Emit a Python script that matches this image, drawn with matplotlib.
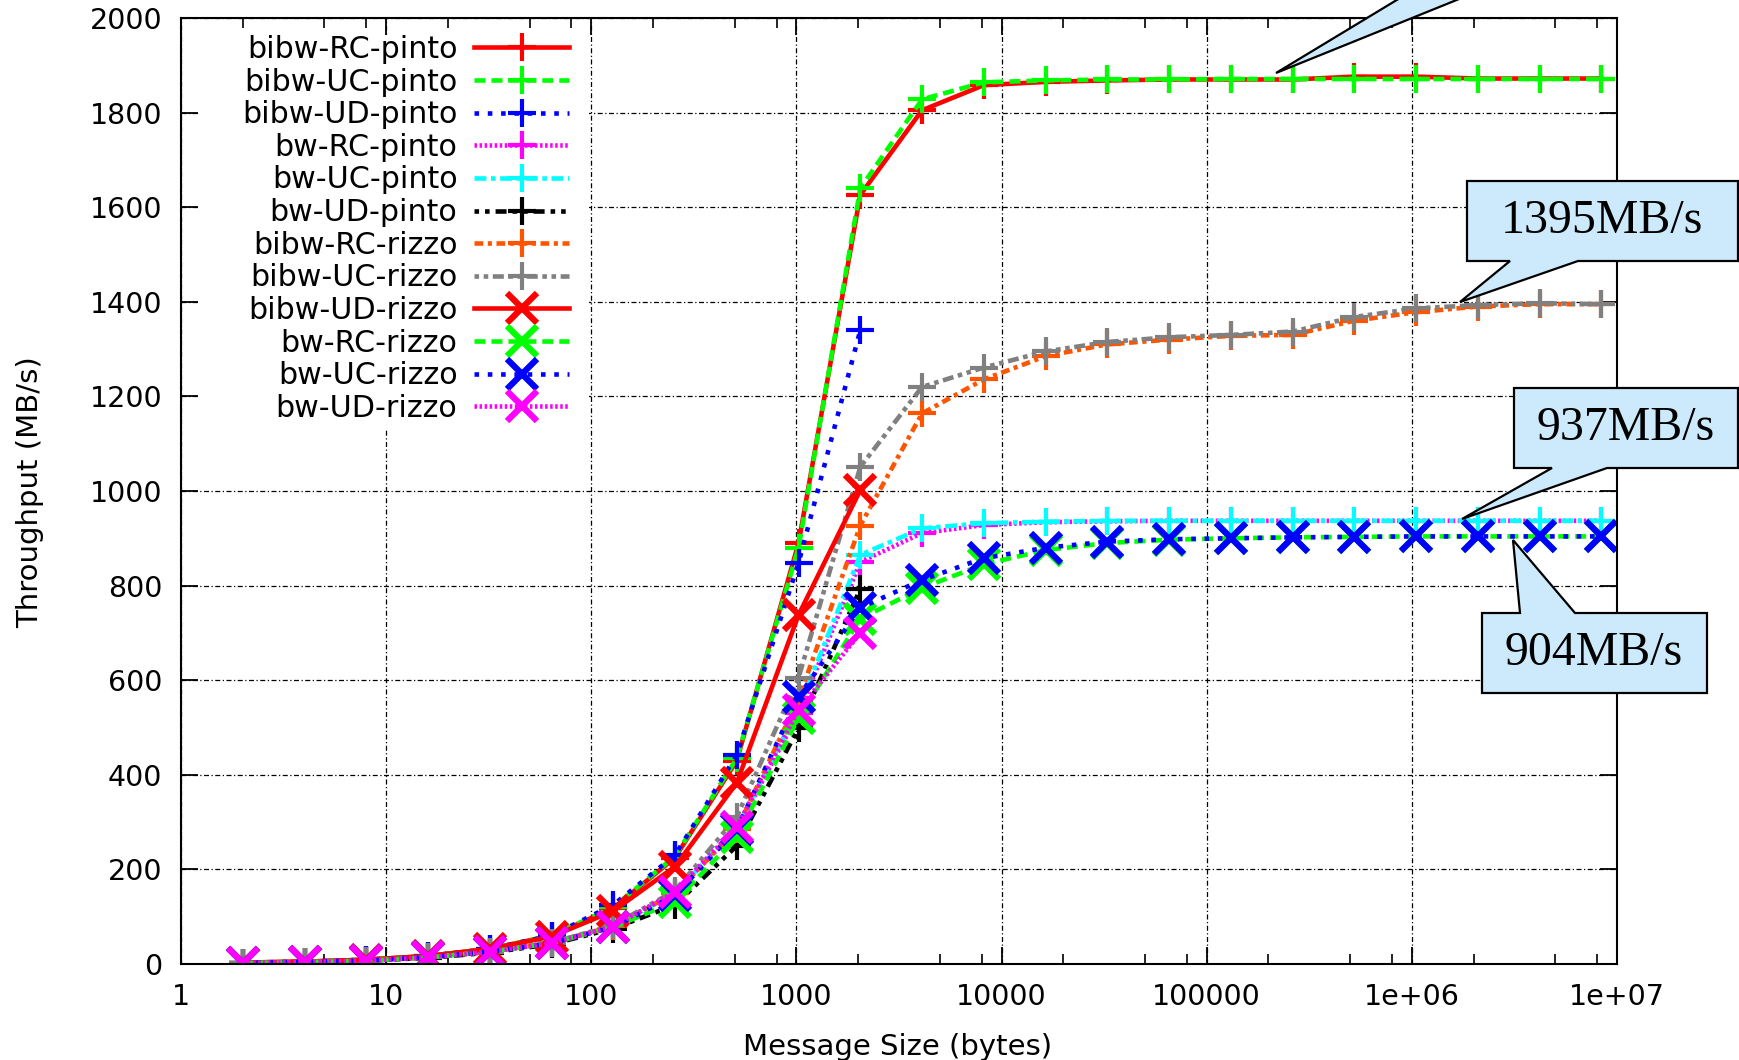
import matplotlib
matplotlib.use('Agg')
import matplotlib.pyplot as plt
from matplotlib.patches import Polygon, Rectangle
from matplotlib.ticker import FixedLocator, FixedFormatter, NullFormatter

plt.rcParams['font.family'] = ['DejaVu Sans']

# ---------------- data ----------------
sizes = [2 ** k for k in range(1, 24)]          # 2 B .. 8 MB
ud_sizes = sizes[:11]                            # UD only up to 2048 B

bibw_rc_pinto = [3, 5, 9, 17, 32, 60, 118, 225, 430, 890, 1626, 1805, 1858, 1865, 1868,
                 1870, 1870, 1870, 1876, 1876, 1872, 1872, 1872]
bibw_uc_pinto = [3, 5, 9, 17, 32, 60, 120, 228, 435, 880, 1640, 1828, 1864, 1868, 1870,
                 1870, 1871, 1871, 1871, 1871, 1871, 1871, 1871]
bibw_ud_pinto = [3, 5, 9, 17, 32, 60, 125, 230, 442, 848, 1340]
bw_rc_pinto = [2, 4, 7, 14, 26, 45, 80, 150, 285, 530, 850, 911, 928, 934, 936,
               937, 937, 937, 937, 937, 937, 937, 937]
bw_uc_pinto = [2, 4, 7, 14, 26, 45, 80, 150, 288, 540, 865, 921, 932, 935, 937,
               937, 937, 937, 937, 937, 937, 937, 937]
bw_ud_pinto = [2, 4, 7, 13, 24, 42, 75, 125, 250, 499, 793]
bibw_rc_rizzo = [2, 4, 7, 14, 26, 45, 80, 150, 285, 560, 927, 1164, 1236, 1285, 1310,
                 1320, 1328, 1330, 1360, 1378, 1390, 1395, 1395]
bibw_uc_rizzo = [2, 4, 7, 14, 26, 45, 82, 155, 311, 605, 1051, 1220, 1261, 1295, 1315,
                 1325, 1330, 1337, 1368, 1386, 1393, 1397, 1395]
bibw_ud_rizzo = [3, 5, 9, 17, 32, 58, 112, 206, 383, 738, 1002]
bw_rc_rizzo = [2, 4, 7, 14, 26, 44, 78, 132, 269, 520, 730, 795, 845, 875, 890,
               897, 900, 902, 903, 904, 904, 904, 904]
bw_uc_rizzo = [2, 4, 7, 14, 26, 44, 78, 145, 285, 565, 753, 812, 858, 880, 893,
               898, 900, 902, 903, 904, 904, 904, 904]
bw_ud_rizzo = [2, 4, 7, 14, 26, 44, 79, 153, 290, 537, 700]

series_labels = ['bibw-RC-pinto', 'bibw-UC-pinto', 'bibw-UD-pinto', 'bw-RC-pinto',
                 'bw-UC-pinto', 'bw-UD-pinto', 'bibw-RC-rizzo', 'bibw-UC-rizzo',
                 'bibw-UD-rizzo', 'bw-RC-rizzo', 'bw-UC-rizzo', 'bw-UD-rizzo']
series_values = [bibw_rc_pinto, bibw_uc_pinto, bibw_ud_pinto, bw_rc_pinto,
                 bw_uc_pinto, bw_ud_pinto, bibw_rc_rizzo, bibw_uc_rizzo,
                 bibw_ud_rizzo, bw_rc_rizzo, bw_uc_rizzo, bw_ud_rizzo]

x_ticks = [1, 10, 100, 1000, 10000, 100000, 1e6, 1e7]
x_tick_labels = ['1', '10', '100', '1000', '10000', '100000', '1e+06', '1e+07']
y_ticks = list(range(0, 2001, 200))

callout_labels = ['1395MB/s', '937MB/s', '904MB/s']

# ---------------- styles ----------------
colors = ['#ff0000', '#00ff00', '#0000ff', '#ff00ff', '#00ffff', '#000000',
          '#ff5500', '#808080', '#ff0000', '#00ff00', '#0000ff', '#ff00ff']
dash_solid = '-'
dash_dashed = (0, (2.4, 1.3))
dash_dotted = (0, (1.0, 1.9))
dash_fine = (0, (0.55, 0.55))
dash_dashdot = (0, (2.6, 1.0, 1.0, 1.0))
dash_ddot = (0, (1.0, 1.3, 1.0, 1.3, 2.4, 1.3))
dash_orange = (0, (1.9, 1.0, 0.9, 1.0))
dash_gray = (0, (1.0, 1.0, 1.0, 1.0, 2.4, 1.0))
styles = [dash_solid, dash_dashed, dash_dotted, dash_fine, dash_dashdot, dash_ddot,
          dash_orange, dash_gray, dash_solid, dash_dashed, dash_dotted, dash_fine]
markers = ['+'] * 8 + ['x'] * 4

W, H = 1739, 1060
fig = plt.figure(figsize=(W / 100, H / 100), dpi=100)
L, R, T, B = 181, 1617, 18, 964
ax = fig.add_axes([L / W, 1 - B / H, (R - L) / W, (B - T) / H])

for lab, vals, col, ls, mk in zip(series_labels, series_values, colors, styles, markers):
    xs = sizes[:len(vals)]
    if mk == '+':
        ax.plot(xs, vals, color=col, linestyle=ls, linewidth=3.3, marker='+',
                markersize=20, markeredgewidth=3.0, label=lab)
    else:
        ax.plot(xs, vals, color=col, linestyle=ls, linewidth=3.3, marker='x',
                markersize=21, markeredgewidth=4.5, label=lab)

ax.set_xscale('log')
ax.set_xlim(1, 1e7)
ax.set_ylim(0, 2000)
ax.xaxis.set_major_locator(FixedLocator(x_ticks))
ax.xaxis.set_major_formatter(FixedFormatter(x_tick_labels))
minor = [m * 10 ** k for k in range(7) for m in (2, 5, 8)]
ax.xaxis.set_minor_locator(FixedLocator(minor))
ax.xaxis.set_minor_formatter(NullFormatter())
ax.set_yticks(y_ticks)

ax.tick_params(which='major', direction='in', top=True, right=True, length=12,
               width=1.3, labelsize=20.5, pad=13.5)
ax.tick_params(which='minor', direction='in', top=True, right=False, length=7, width=1.2)
ax.tick_params(axis='x', which='major', pad=14)
for s in ax.spines.values():
    s.set_linewidth(1.5)

ax.set_axisbelow(True)
ax.grid(True, which='major', color='black', linestyle=(0, (4, 2, 1, 2)), linewidth=0.9)

# key area blanks the grid (as gnuplot does), leaving the border ticks visible
kx0, kx1, ky0, ky1 = L + 18, 589, T + 18, 430
ax.add_patch(Rectangle(((kx0 - L) / (R - L), (B - ky1) / (B - T)),
                       (kx1 - kx0) / (R - L), (ky1 - ky0) / (B - T),
                       transform=ax.transAxes, facecolor='white', edgecolor='none',
                       zorder=0.7))

ax.set_xlabel('Message Size (bytes)', fontsize=21, va='center')
ax.xaxis.set_label_coords(0.499, (B - 1047) / (B - T))
ax.set_ylabel('Throughput (MB/s)', fontsize=21, va='center')
ax.yaxis.set_label_coords((30 - L) / (R - L), (B - 492) / (B - T))

leg = ax.legend(loc='upper right', bbox_to_anchor=((569 - L) / (R - L), (B - 35) / (B - T)),
                frameon=False, markerfirst=False, handlelength=3.15, handletextpad=0.55,
                labelspacing=0.12, borderpad=0, borderaxespad=0, fontsize=21.7, numpoints=1)

# ---------------- callouts ----------------
def fpt(x, y):
    return (x / W, 1 - y / H)

fill = '#cceafb'
callout_shapes = [
    [(1467, 181), (1738, 181), (1738, 261), (1578, 261), (1460, 302), (1510, 261), (1467, 261)],
    [(1514, 388), (1738, 388), (1738, 468), (1607, 468), (1462, 519), (1552, 468), (1514, 468)],
    [(1482, 613), (1520, 613), (1513, 540), (1575, 613), (1707, 613), (1707, 693), (1482, 693)],
]
callout_text_pos = [(1602, 221), (1626, 428), (1594, 653)]
for shape, lab, (tx, ty) in zip(callout_shapes, callout_labels, callout_text_pos):
    poly = Polygon([fpt(*p) for p in shape], closed=True, facecolor=fill, edgecolor='black',
                   linewidth=1.6, transform=fig.transFigure, zorder=5)
    fig.patches.append(poly)
    fig.text(tx / W, 1 - ty / H, lab, ha='center', va='center', fontsize=34.5,
             family=['Liberation Serif', 'DejaVu Serif'], zorder=6)

# top callout (box above the visible area, only its pointer shows)
top_tail = Polygon([fpt(1405, -5), fpt(1276, 73), fpt(1469, -5)], closed=True,
                   facecolor=fill, edgecolor='black', linewidth=1.6,
                   transform=fig.transFigure, zorder=5)
fig.patches.append(top_tail)

fig.savefig('out.png', dpi=100)
